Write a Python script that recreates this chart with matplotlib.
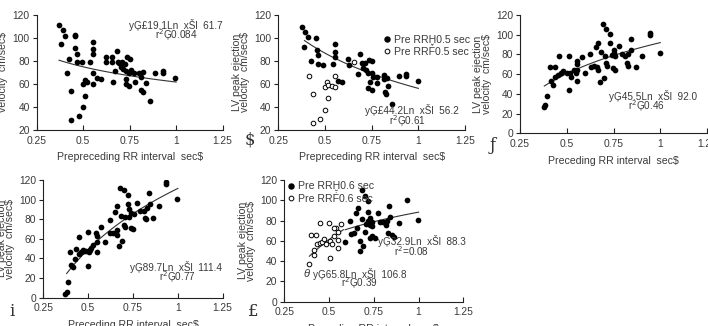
import numpy as np
import matplotlib as mpl
import matplotlib.pyplot as plt
from matplotlib.lines import Line2D

plt.rcParams['font.family'] = ['Liberation Sans Narrow', 'DejaVu Sans Condensed',
                               'Liberation Sans', 'DejaVu Sans']
plt.rcParams['font.size'] = 7.2
TXT = '#3a3a3a'

# ---- data ----
# panel 1 : prepreceding RR vs velocity (all beats)
p1_x = [0.372, 0.393, 0.404, 0.383, 0.454, 0.456, 0.454, 0.465, 0.465, 0.424, 0.415, 0.433,
        0.433, 0.476, 0.501, 0.512, 0.494, 0.501, 0.512, 0.522, 0.537, 0.551, 0.551, 0.551,
        0.551, 0.551, 0.573, 0.594, 0.623, 0.623, 0.655, 0.655, 0.659, 0.670, 0.681, 0.688,
        0.695, 0.702, 0.709, 0.716, 0.724, 0.730, 0.734, 0.730, 0.730, 0.745, 0.752, 0.748,
        0.755, 0.773, 0.780, 0.802, 0.813, 0.813, 0.823, 0.823, 0.838, 0.859, 0.888, 0.927,
        0.927, 0.992]
p1_y = [111.3, 107, 102, 95, 103, 101.5, 91.6, 85.8, 79.4, 81.7, 69.3, 53.6,
        28.7, 32.2, 40, 49.3, 78.8, 59.7, 63.5, 61.7, 79.4, 96.5, 90.1, 85.8,
        69.3, 59.7, 64.9, 64, 83.8, 78.8, 83.5, 79.4, 61.7, 71, 89, 79.4,
        78, 75, 79.4, 73, 77.1, 71, 83.2, 64.3, 59.7, 69.3, 81.4, 58.3,
        72.2, 69.3, 61.7, 69.3, 66.4, 54.8, 53, 70.4, 60.6, 45.5, 69.9, 71,
        69.3, 64.9]

# panel 2 : prepreceding RR, split by preceding RR >= / < 0.5 sec
p2_fx = [0.375, 0.393, 0.407, 0.388, 0.454, 0.457, 0.464, 0.425, 0.464, 0.491, 0.543, 0.554,
         0.554, 0.554, 0.571, 0.589, 0.625, 0.629, 0.686, 0.679, 0.696, 0.704, 0.714, 0.718,
         0.729, 0.736, 0.739, 0.732, 0.750, 0.754, 0.754, 0.757, 0.777, 0.779, 0.814, 0.818,
         0.821, 0.829, 0.839, 0.832, 0.861, 0.896, 0.936, 0.936, 1.0]
p2_fy = [109.9, 104.9, 100.6, 92.2, 100.3, 89.6, 85.2, 80, 77.4, 76.2, 77.4, 95.1,
         88.1, 83.8, 62.9, 61.7, 81.4, 76.5, 86.4, 68.4, 78, 74.2, 78.6, 71.9,
         69.3, 80.9, 62, 56.8, 54.8, 80, 69.3, 66.4, 65.8, 60.6, 64.3, 68.1,
         53.3, 51.3, 58.3, 65.2, 42.6, 67.2, 68.7, 67, 62.9]
p2_ox = [0.416, 0.436, 0.436, 0.475, 0.500, 0.500, 0.511, 0.514, 0.514, 0.536, 0.554, 0.554, 0.655]
p2_oy = [66.7, 51.6, 26.1, 29.6, 37.7, 57.7, 61.7, 59.1, 47.5, 58.3, 66.7, 57.1, 79]

# panel 3 : preceding RR vs velocity
p3_x = [0.379, 0.386, 0.396, 0.411, 0.418, 0.429, 0.436, 0.439, 0.457, 0.454, 0.468, 0.482,
        0.500, 0.511, 0.511, 0.518, 0.521, 0.539, 0.550, 0.554, 0.554, 0.557, 0.557, 0.579,
        0.600, 0.625, 0.629, 0.646, 0.657, 0.661, 0.668, 0.668, 0.679, 0.682, 0.693, 0.700,
        0.707, 0.711, 0.711, 0.714, 0.729, 0.732, 0.743, 0.750, 0.754, 0.757, 0.746, 0.757,
        0.779, 0.793, 0.814, 0.821, 0.825, 0.829, 0.843, 0.846, 0.871, 0.900, 0.946, 0.946,
        1.0]
p3_y = [26.4, 28.7, 38.2, 67.6, 53.4, 49, 67.6, 57.5, 78.4, 59.1, 61.5, 63.5,
        61.5, 78.4, 43.9, 60.8, 56.8, 64.2, 61.5, 73.7, 70.3, 64.2, 53.4, 77.1,
        61.5, 80.4, 67.6, 68.3, 87.9, 67.6, 64.2, 92, 52.4, 82.8, 110.9, 56.1,
        78.4, 105.5, 71, 68.3, 100.7, 91.3, 79.1, 84.5, 81.8, 78.4, 65.9, 64.2,
        88.6, 80.4, 78.4, 71, 68.3, 80.4, 95.3, 84.5, 67.6, 78.4, 101.4, 100,
        81.1]

# panel 4 : preceding RR vs velocity
p4_x = [0.373, 0.380, 0.389, 0.399, 0.406, 0.417, 0.428, 0.432, 0.447, 0.451, 0.462, 0.469,
        0.477, 0.488, 0.499, 0.503, 0.500, 0.510, 0.518, 0.525, 0.544, 0.547, 0.547, 0.551,
        0.570, 0.592, 0.622, 0.622, 0.641, 0.652, 0.659, 0.659, 0.663, 0.670, 0.677, 0.685,
        0.689, 0.700, 0.700, 0.704, 0.708, 0.722, 0.722, 0.726, 0.730, 0.737, 0.741, 0.748,
        0.756, 0.774, 0.789, 0.811, 0.817, 0.822, 0.826, 0.837, 0.845, 0.863, 0.893, 0.934,
        0.934, 0.997]
p4_y = [3.4, 6.1, 15.6, 46.2, 33.3, 31.3, 39.4, 49.6, 62.2, 44.9, 46.2, 48.3,
        47.6, 47.6, 67.3, 46.2, 32.6, 48.3, 51, 53.7, 65.6, 63.2, 46.2, 56.4,
        72.1, 56.4, 78.9, 65.6, 65.6, 87.7, 93.8, 68.7, 63.9, 53, 112.2, 83.6,
        57.8, 109.8, 74.1, 72.1, 82.6, 104.7, 95.2, 82.6, 90.4, 70.7, 86.7, 70,
        85, 96.5, 88.4, 88.4, 80.9, 80.2, 91.8, 106.4, 95.2, 80.9, 93.1, 117.6,
        116.3, 101]

# panel 5 : preceding RR, split by >= / < 0.6 sec
p5_fx = [0.589, 0.619, 0.622, 0.637, 0.648, 0.656, 0.660, 0.671, 0.671, 0.682, 0.682, 0.690,
         0.701, 0.701, 0.708, 0.716, 0.719, 0.719, 0.727, 0.727, 0.738, 0.742, 0.742, 0.730,
         0.757, 0.771, 0.783, 0.801, 0.820, 0.823, 0.831, 0.835, 0.838, 0.849, 0.864, 0.891,
         0.935, 0.995]
p5_fy = [59.2, 79.6, 66.4, 67.4, 87.1, 72.3, 92.1, 59.8, 50, 109.8, 81.2, 54.9,
         104.5, 69, 76.9, 79.6, 99.6, 88.8, 82.2, 75.6, 78.3, 75, 64.4, 62.5,
         63.1, 87.1, 78.3, 78.9, 75.6, 79.6, 67.4, 94, 83.8, 65.8, 63.8, 77.3,
         100.3, 80.2]
p5_ox = [0.388, 0.399, 0.414, 0.418, 0.429, 0.433, 0.451, 0.451, 0.462, 0.473, 0.485, 0.500,
         0.503, 0.507, 0.514, 0.529, 0.541, 0.548, 0.548, 0.552, 0.566, 0.526]
p5_oy = [37.5, 65.8, 46, 50.6, 65.8, 57.2, 77.3, 57.9, 58.5, 61.8, 57.2, 77.6,
         42.7, 59.8, 56.6, 65.1, 72.3, 52.6, 69, 60.5, 76.3, 72.3]

# regression y = k*ln(x) + c, with the x range it is drawn over
fits = {
    'p1': (-19.1, 61.7, 0.37, 1.0),
    'p2': (-44.2, 56.2, 0.39, 1.0),
    'p3': (45.5, 92.0, 0.38, 1.0),
    'p4': (89.7, 111.4, 0.38, 1.0),
    'p5o': (65.8, 106.8, 0.39, 0.58),
    'p5f': (32.9, 88.3, 0.59, 1.0),
}

x_ticks = [0.25, 0.5, 0.75, 1.0, 1.25]
x_tick_labels = ['0.25', '0.5', '0.75', '1', '1.25']
ylab = 'LV peak ejection\nvelocity  cm/sec$'

W, H = 708, 326
fig = plt.figure(figsize=(W / 100, H / 100), dpi=100)


def box(x0, y0, x1, y1):
    return [x0 / W, 1 - y1 / H, (x1 - x0) / W, (y1 - y0) / H]


def setup(ax, ymin, xlabel):
    ax.set_xlim(0.25, 1.25)
    ax.set_ylim(ymin, 120)
    ax.set_xticks(x_ticks)
    ax.set_xticklabels(x_tick_labels)
    ax.set_yticks(np.arange(ymin, 121, 20))
    for s in ['top', 'right']:
        ax.spines[s].set_visible(False)
    for s in ['left', 'bottom']:
        ax.spines[s].set_linewidth(0.8)
        ax.spines[s].set_color('#222')
    ax.tick_params(axis='x', direction='in', length=3.5, width=0.8, pad=4, colors='#222',
                   labelcolor=TXT, labelsize=7.4)
    ax.tick_params(axis='y', direction='out', length=3, width=0.8, pad=2, colors='#222',
                   labelcolor=TXT, labelsize=7.4)
    ax.set_xlabel(xlabel, color=TXT, fontsize=7.6, labelpad=5)
    ax.set_ylabel(ylab, color=TXT, fontsize=7.6, labelpad=3, linespacing=0.8)
    ax.patch.set_alpha(0)


def fitline(ax, key):
    k, c, lo, hi = fits[key]
    xs = np.linspace(lo, hi, 60)
    ax.plot(xs, k * np.log(xs) + c, color='#333', lw=0.8, zorder=1)


def filled(ax, x, y):
    ax.scatter(x, y, s=17, color='black', linewidths=0, zorder=3)


def hollow(ax, x, y):
    ax.scatter(x, y, s=11, facecolors='white', edgecolors='black', linewidths=0.7, zorder=3)


def legend(ax, thr, anchor):
    h = [Line2D([], [], ls='none', marker='o', ms=3.6, mfc='black', mec='black'),
         Line2D([], [], ls='none', marker='o', ms=3.4, mfc='white', mec='black', mew=0.7)]
    lg = ax.legend(h, ['Pre RR\u1e2a' + thr + ' sec', 'Pre RR\u1e1e' + thr + ' sec'],
                   loc='upper left', bbox_to_anchor=anchor, frameon=False, fontsize=7.6,
                   handlelength=0.6, handletextpad=0.4, labelspacing=0.25, borderpad=0,
                   borderaxespad=0)
    for t in lg.get_texts():
        t.set_color(TXT)


def eq(ax, x, y, s, size=7.2):
    ax.text(x, y, s, color=TXT, fontsize=size, va='center', ha='center')


def plabel(x, y, s):
    fig.text(x / W, 1 - y / H, s, family=['DejaVu Serif'], fontsize=12, color='#333',
             ha='center', va='center')


# panel 1
ax1 = fig.add_axes(box(36.7, 15, 222.7, 130))
setup(ax1, 20, 'Prepreceding RR interval  sec$')
fitline(ax1, 'p1')
filled(ax1, p1_x, p1_y)
eq(ax1, 1.0, 111.3, 'y\u0122\u00a319.1Ln  x\u0160l  61.7')
eq(ax1, 1.0, 102.1, 'r$^2$\u01220.084')

# panel 2
ax2 = fig.add_axes(box(278.3, 15, 465, 130))
setup(ax2, 20, 'Prepreceding RR interval  sec$')
fitline(ax2, 'p2')
filled(ax2, p2_fx, p2_fy)
hollow(ax2, p2_ox, p2_oy)
legend(ax2, '0.5', (0.565, 0.83))
eq(ax2, 0.965, 37.4, 'y\u0122\u00a344.2Ln  x\u0160l  56.2')
eq(ax2, 0.941, 27.8, 'r$^2$\u01220.61')
plabel(250, 140, '$')

# panel 3
ax3 = fig.add_axes(box(520, 15, 707, 133.3))
setup(ax3, 0, 'Preceding RR interval  sec$')
fitline(ax3, 'p3')
filled(ax3, p3_x, p3_y)
eq(ax3, 0.959, 37.9, 'y\u012245.5Ln  x\u0160l  92.0')
eq(ax3, 0.929, 27.7, 'r$^2$\u01220.46')
plabel(493, 145, '\u0192')

# panel 4
ax4 = fig.add_axes(box(43.3, 180, 222.7, 297.7))
setup(ax4, 0, 'Preceding RR interval  sec$')
fitline(ax4, 'p4')
filled(ax4, p4_x, p4_y)
eq(ax4, 0.99, 31.3, 'y\u012289.7Ln  x\u0160l  111.4')
eq(ax4, 0.995, 21.1, 'r$^2$\u01220.77')
plabel(12, 312, 'i')

# panel 5
ax5 = fig.add_axes(box(284.3, 180, 463.3, 301.7))
setup(ax5, 0, 'Preceding RR interval  sec$')
fitline(ax5, 'p5o')
fitline(ax5, 'p5f')
filled(ax5, p5_fx, p5_fy)
hollow(ax5, p5_ox, p5_oy)
legend(ax5, '0.6', (0.02, 0.99))
eq(ax5, 1.019, 59.8, 'y\u012232.9Ln  x\u0160l  88.3')
eq(ax5, 0.963, 50.0, 'r$^2$=0.08')
ax5.text(0.371, 27.3, '\u03b8', color=TXT, fontsize=8, style='italic', ha='center', va='center')
eq(ax5, 0.673, 27.3, 'y\u012265.8Ln  x\u0160l  106.8')
eq(ax5, 0.670, 18.4, 'r$^2$\u01220.39')
plabel(253, 312, '\u00a3')

fig.savefig('out.png', dpi=100)
